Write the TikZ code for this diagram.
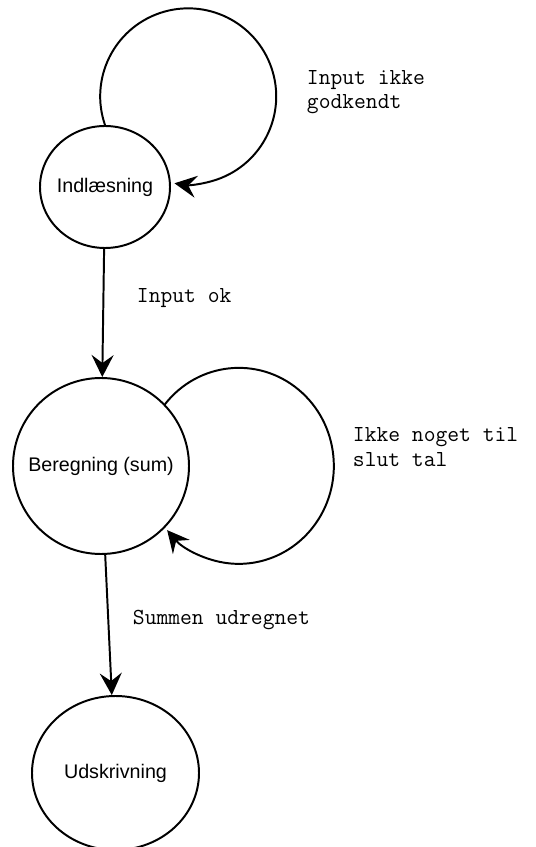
\documentclass[tikz,border=0pt]{standalone}
\usepackage{fontspec}
\setmainfont{Liberation Sans}
\usetikzlibrary{shapes.geometric,arrows.meta}

\begin{document}
\begin{tikzpicture}[line width=1.4pt, line join=round, line cap=round,
		>={Stealth[length=5.5mm,width=5.5mm,inset=2mm]},
		font=\fontsize{14}{17}\selectfont,
		state/.style={ellipse, draw, inner sep=0pt},
		txt/.style={anchor=west, align=left, inner sep=0pt, font=\ttfamily\fontsize{16.3}{17.5}\selectfont}]
	\useasboundingbox (0,0) rectangle (13.4,21.175);
	% tilstande
	\node[state, minimum width=3.25cm, minimum height=3.05cm, label=center:Indlæsning] (ind) at (2.625,16.5) {};
	\node[state, minimum size=4.4cm, label=center:Beregning (sum)] (ber) at (2.525,9.525) {};
	\node[state, minimum width=4.175cm, minimum height=3.85cm, label=center:Udskrivning] (uds) at (2.8875,1.85) {};
	% overgange
	\draw[->] (ind) -- (ber);
	\draw[->] (ber) -- (uds);
	\draw[->] (ind.north) arc[start angle=199, end angle=-99, radius=2.2];
	\draw[->] (ber.44) arc[start angle=141, end angle=-139, x radius=2.375, y radius=2.45];
	% tekster
	\node[txt] (ikkeok) at (7.65,18.875) {Input ikke\\godkendt};
	\node[txt] (ok) at (3.4,13.725) {Input ok};
	\node[txt] (ikkeslut) at (8.8,10.0) {Ikke noget til\\slut tal};
	\node[txt] (summen) at (3.3,5.675) {Summen udregnet};
\end{tikzpicture}
\end{document}
